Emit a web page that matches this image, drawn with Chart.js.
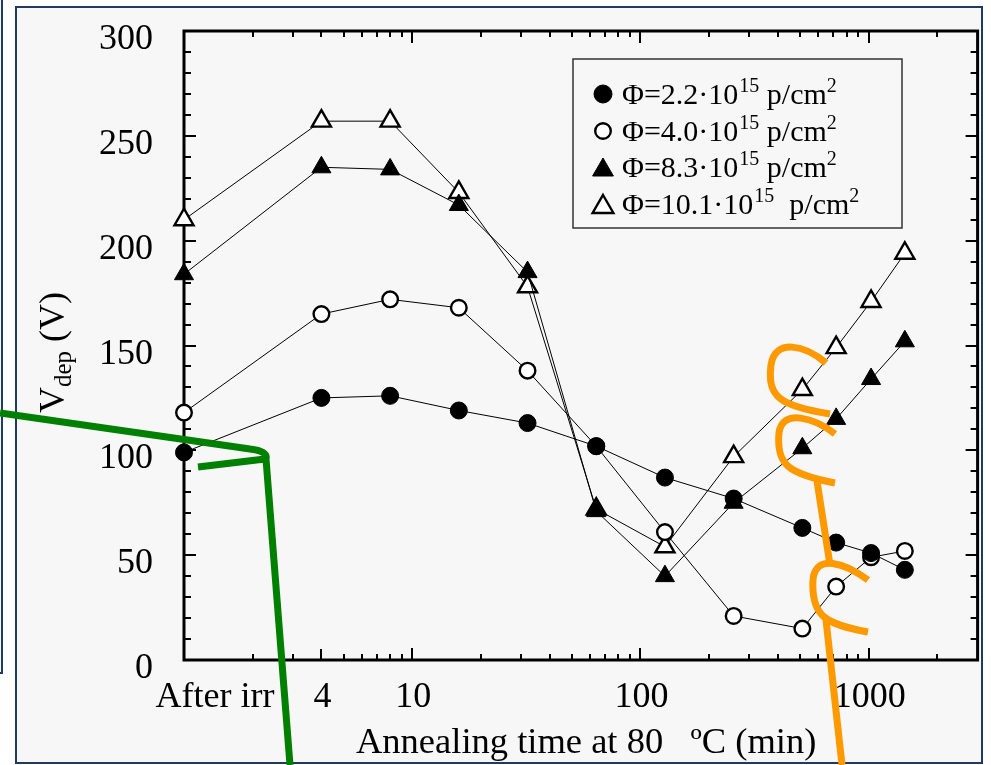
<!DOCTYPE html>
<html>
<head>
<meta charset="utf-8">
<script src="https://cdn.jsdelivr.net/npm/chart.js@4/dist/chart.umd.min.js"></script>
<style>
  html, body { margin: 0; padding: 0; background: #ffffff; }
  canvas { display: block; }
</style>
</head>
<body>
<canvas id="chart" width="991" height="765"></canvas>
<script>
// Annealing time in minutes ("After irr" is placed at 1 min on the log axis)
const annealMinutes = [1, 4, 8, 16, 32, 64, 128, 256, 512, 720, 1024, 1440];

// Full depletion voltage (V) for each fluence
const vdepPhi22  = [99, 125, 126, 119, 113, 102, 87, 77, 63, 56, 51, 43];
const vdepPhi40  = [118, 165, 172, 168, 138, 102, 61, 21, 15, 35, 49, 52];
const vdepPhi83  = [184, 235, 234, 217, 185, 71, 40, 75, 101, 115, 134, 152];
const vdepPhi101 = [210, 257, 257, 223, 178, 72, 54, 97, 129, 149, 171, 194];

// Axis tick labels
const xTickValues = [1, 4, 10, 100, 1000];
const xTickLabels = ['After irr', '4', '10', '100', '1000'];
const yTickValues = [0, 50, 100, 150, 200, 250, 300];

// Legend text pieces: "Φ=…·10" + superscript 15 + unit + superscript 2
const legendMain = ['Φ=2.2·10', 'Φ=4.0·10', 'Φ=8.3·10', 'Φ=10.1·10'];
const legendUnit = [' p/cm', ' p/cm', ' p/cm', '  p/cm'];

const SERIF = '"Liberation Serif", "Times New Roman", serif';

function series(label, values, style, filled) {
  return {
    label: label,
    data: annealMinutes.map((t, i) => ({ x: t, y: values[i] })),
    borderColor: '#000000',
    borderWidth: 1,
    tension: 0,
    fill: false,
    clip: false,
    pointStyle: style,
    pointRadius: style === 'triangle' ? 11 : (filled ? 8.5 : 7.8),
    pointHoverRadius: style === 'triangle' ? 11 : 8.5,
    pointBackgroundColor: filled ? '#000000' : '#ffffff',
    pointBorderColor: '#000000',
    pointBorderWidth: filled ? 1 : 2.4
  };
}

// Page panels behind the plot
const panelPlugin = {
  id: 'panels',
  beforeDraw(chart) {
    const ctx = chart.ctx;
    ctx.save();
    ctx.fillStyle = '#ffffff';
    ctx.fillRect(0, 0, chart.width, chart.height);
    ctx.fillStyle = '#f7f7f7';
    ctx.fillRect(16, 7, 966, 756);
    ctx.fillRect(0, 0, 2, 672);
    ctx.strokeStyle = '#1f3c60';
    ctx.lineWidth = 2;
    ctx.strokeRect(16, 7, 966, 756);
    ctx.beginPath();
    ctx.moveTo(2, 0);
    ctx.lineTo(2, 673);
    ctx.lineTo(0, 673);
    ctx.stroke();
    ctx.restore();
  }
};

// Boxed axes with inward ticks, tick labels and titles
const axesPlugin = {
  id: 'boxAxes',
  beforeDatasetsDraw(chart) {
    const ctx = chart.ctx;
    const xs = chart.scales.x, ys = chart.scales.y;
    const a = chart.chartArea;
    ctx.save();
    ctx.strokeStyle = '#000000';
    ctx.lineCap = 'butt';

    // y ticks every 10 V, longer every 50 V, on left and right
    ctx.lineWidth = 2;
    ctx.beginPath();
    for (let v = 10; v < 300; v += 10) {
      const y = Math.round(ys.getPixelForValue(v));
      const len = v % 50 === 0 ? 12 : 7;
      ctx.moveTo(a.left, y); ctx.lineTo(a.left + len, y);
      ctx.moveTo(a.right, y); ctx.lineTo(a.right - len, y);
    }
    // x log ticks, bottom and top
    for (const d of [1, 10, 100, 1000]) {
      for (let m = 1; m <= 9; m++) {
        const v = m * d;
        if (v <= 1 || v >= 3000) continue;
        const x = Math.round(xs.getPixelForValue(v));
        const major = m === 1;
        const lenB = major ? 12 : (v === 4 ? 11 : 6);
        const lenT = major ? 12 : 6;
        ctx.moveTo(x, a.bottom); ctx.lineTo(x, a.bottom - lenB);
        ctx.moveTo(x, a.top); ctx.lineTo(x, a.top + lenT);
      }
    }
    ctx.stroke();

    // frame
    ctx.lineWidth = 3;
    ctx.strokeRect(a.left, a.top, a.right - a.left, a.bottom - a.top);

    // tick labels
    ctx.fillStyle = '#000000';
    ctx.font = '36px ' + SERIF;
    ctx.textBaseline = 'alphabetic';
    ctx.textAlign = 'right';
    yTickValues.forEach(v => {
      ctx.fillText(String(v), 153, ys.getPixelForValue(v) + 18);
    });
    ctx.textAlign = 'center';
    xTickValues.forEach((v, i) => {
      const shift = i === 0 ? 31 : 1;
      ctx.fillText(xTickLabels[i], xs.getPixelForValue(v) + shift, 707);
    });

    // x title
    ctx.textAlign = 'left';
    ctx.font = '36.5px ' + SERIF;
    ctx.fillText('Annealing time at 80   ºC (min)', 356, 753);

    // y title: V with subscript "dep", rotated
    ctx.translate(64, 413);
    ctx.rotate(-Math.PI / 2);
    ctx.textAlign = 'left';
    ctx.font = '36px ' + SERIF;
    ctx.fillText('V', 0, 0);
    let w = ctx.measureText('V').width;
    ctx.font = '25px ' + SERIF;
    ctx.fillText('dep', w, 7);
    w += ctx.measureText('dep').width;
    ctx.font = '36px ' + SERIF;
    ctx.fillText(' (V)', w, 0);
    ctx.restore();
  }
};

// Legend with superscripted exponents
const legendPlugin = {
  id: 'fluenceLegend',
  afterDatasetsDraw(chart) {
    const ctx = chart.ctx;
    ctx.save();
    ctx.fillStyle = '#f7f7f7';
    ctx.fillRect(573, 59, 329, 169);
    ctx.strokeStyle = '#333333';
    ctx.lineWidth = 1.5;
    ctx.strokeRect(573, 59, 329, 169);
    const rowY = [94, 131, 167, 204];
    chart.data.datasets.forEach((ds, i) => {
      const cy = rowY[i];
      const tri = ds.pointStyle === 'triangle';
      const filled = ds.pointBackgroundColor === '#000000';
      ctx.fillStyle = ds.pointBackgroundColor;
      ctx.strokeStyle = '#000000';
      ctx.lineWidth = ds.pointBorderWidth;
      ctx.beginPath();
      if (tri) {
        const r = 12, x = 603, y = cy + 3;
        for (let k = 0; k < 3; k++) {
          const ang = k * 2 * Math.PI / 3;
          const px = x + Math.sin(ang) * r, py = y - Math.cos(ang) * r;
          k === 0 ? ctx.moveTo(px, py) : ctx.lineTo(px, py);
        }
        ctx.closePath();
      } else {
        ctx.arc(603, cy, filled ? 9 : 7.8, 0, Math.PI * 2);
      }
      ctx.fill();
      ctx.stroke();

      ctx.fillStyle = '#000000';
      ctx.textAlign = 'left';
      ctx.textBaseline = 'alphabetic';
      let x = 622;
      const base = cy + 10;
      ctx.font = '30px ' + SERIF;
      ctx.fillText(legendMain[i], x, base);
      x += ctx.measureText(legendMain[i]).width + 1;
      ctx.font = '20px ' + SERIF;
      ctx.fillText('15', x, base - 12);
      x += ctx.measureText('15').width;
      ctx.font = '30px ' + SERIF;
      ctx.fillText(legendUnit[i], x, base);
      x += ctx.measureText(legendUnit[i]).width;
      ctx.font = '20px ' + SERIF;
      ctx.fillText('2', x, base - 12);
    });
    ctx.restore();
  }
};

// Hand-drawn marker strokes over the figure
const strokesPlugin = {
  id: 'strokes',
  afterDraw(chart) {
    const ctx = chart.ctx;
    ctx.save();
    ctx.lineWidth = 7;
    ctx.lineCap = 'butt';
    ctx.lineJoin = 'round';

    ctx.strokeStyle = '#008000';
    ctx.beginPath();
    ctx.moveTo(0, 413);
    ctx.lineTo(250, 449);
    ctx.quadraticCurveTo(268, 451, 266, 459);
    ctx.lineTo(290, 765);
    ctx.moveTo(198, 467);
    ctx.lineTo(265, 459);
    ctx.stroke();

    ctx.strokeStyle = '#ff9900';
    ctx.beginPath();
    ctx.moveTo(826, 363);
    ctx.bezierCurveTo(805, 345, 775, 338, 771, 365);
    ctx.bezierCurveTo(767, 397, 780, 406, 830, 414);
    ctx.moveTo(835, 434);
    ctx.bezierCurveTo(815, 418, 782, 408, 779, 433);
    ctx.bezierCurveTo(776, 466, 790, 474, 835, 483);
    ctx.moveTo(817, 481);
    ctx.lineTo(830, 565);
    ctx.moveTo(868, 580);
    ctx.bezierCurveTo(845, 563, 815, 553, 813, 580);
    ctx.bezierCurveTo(811, 616, 825, 624, 868, 632);
    ctx.moveTo(826, 620);
    ctx.lineTo(842, 765);
    ctx.stroke();
    ctx.restore();
  }
};

new Chart(document.getElementById('chart'), {
  type: 'line',
  data: {
    datasets: [
      series('Φ=2.2·10^15 p/cm^2', vdepPhi22, 'circle', true),
      series('Φ=4.0·10^15 p/cm^2', vdepPhi40, 'circle', false),
      series('Φ=8.3·10^15 p/cm^2', vdepPhi83, 'triangle', true),
      series('Φ=10.1·10^15 p/cm^2', vdepPhi101, 'triangle', false)
    ]
  },
  options: {
    responsive: false,
    animation: false,
    devicePixelRatio: 1,
    layout: { padding: { left: 184, top: 31, right: 13, bottom: 105 } },
    scales: {
      x: { type: 'logarithmic', min: 1, max: 3000, display: false },
      y: { type: 'linear', min: 0, max: 300, display: false }
    },
    plugins: {
      legend: { display: false },
      tooltip: { enabled: false }
    }
  },
  plugins: [panelPlugin, axesPlugin, legendPlugin, strokesPlugin]
});
</script>
</body>
</html>
